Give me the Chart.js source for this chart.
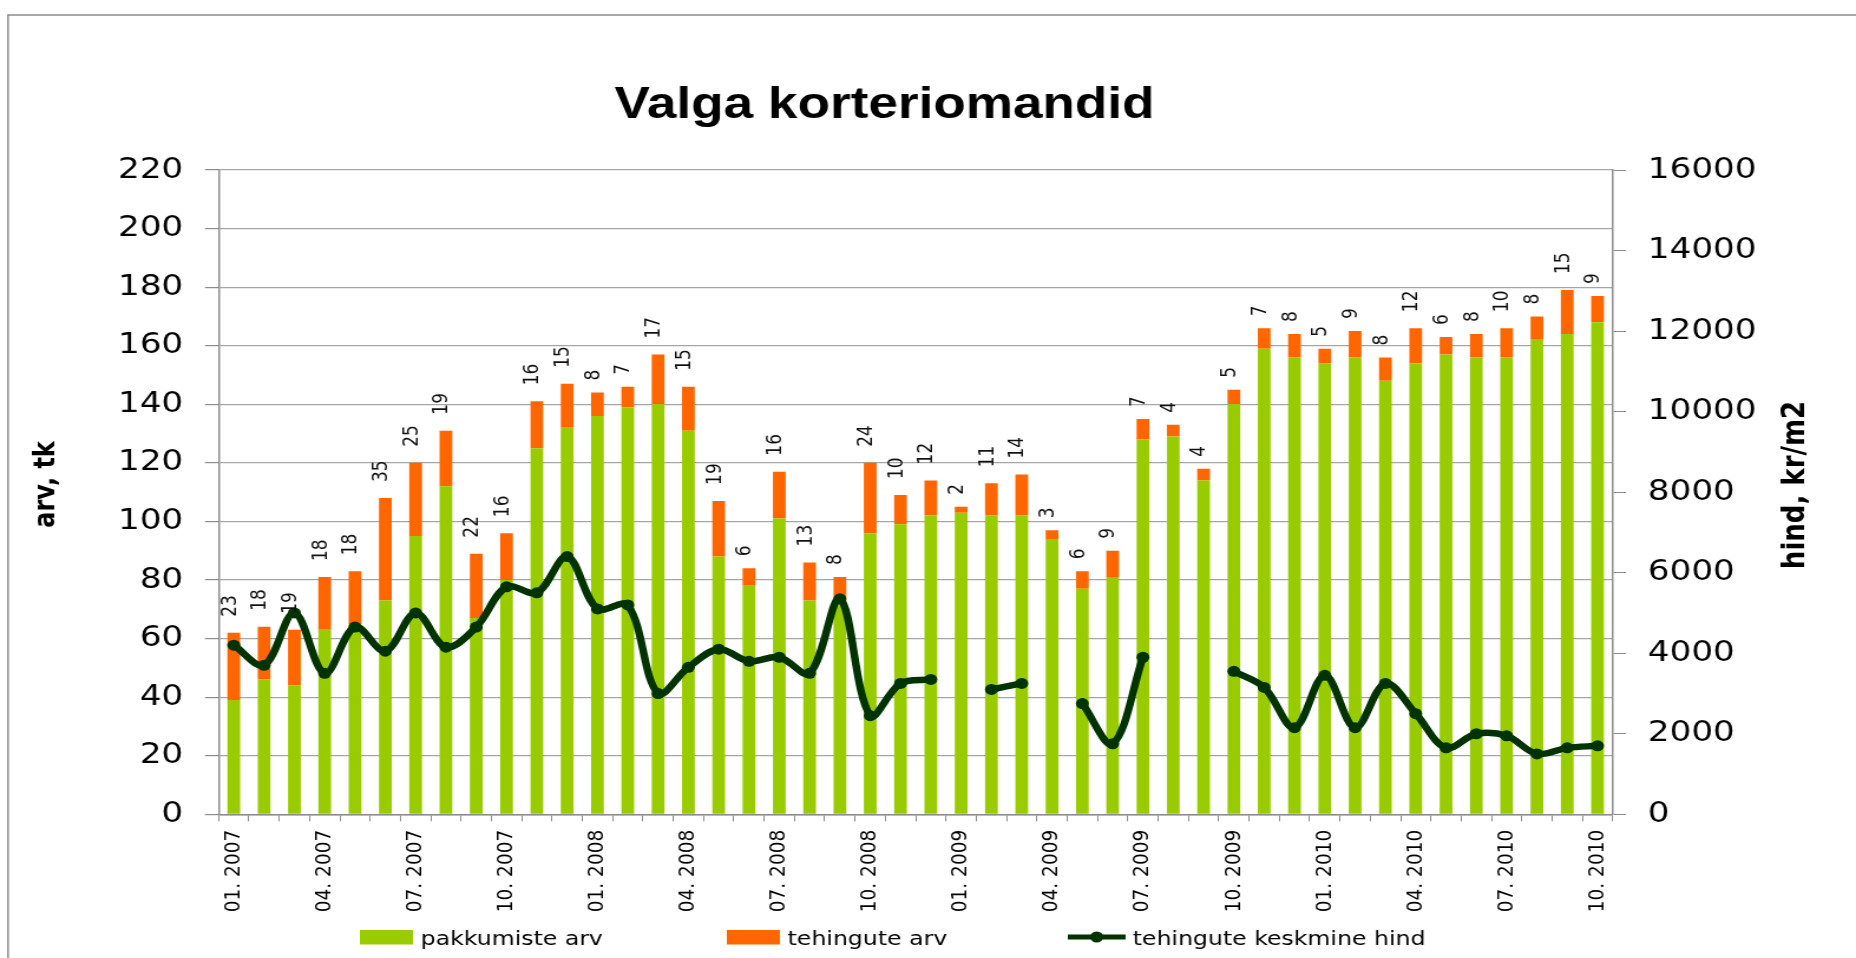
<!DOCTYPE html>
<html>
<head>
<meta charset="utf-8">
<title>Valga korteriomandid</title>
<script src="https://cdn.jsdelivr.net/npm/chart.js@4.4.1/dist/chart.umd.min.js"></script>
<style>
  html, body { margin: 0; padding: 0; background: #fff; overflow: hidden; }
  /* pilt on laiuti venitatud, seepärast joonistame kitsamalt ja venitame */
  #wrap { position: absolute; left: 0; top: 0; width: 1573px; height: 958px;
          transform: scaleX(1.1799); transform-origin: 0 0; }
</style>
</head>
<body>
<div id="wrap"><canvas id="graafik"></canvas></div>
<script>
const kuud = [
  "01. 2007", "02. 2007", "03. 2007", "04. 2007", "05. 2007", "06. 2007",
  "07. 2007", "08. 2007", "09. 2007", "10. 2007", "11. 2007", "12. 2007",
  "01. 2008", "02. 2008", "03. 2008", "04. 2008", "05. 2008", "06. 2008",
  "07. 2008", "08. 2008", "09. 2008", "10. 2008", "11. 2008", "12. 2008",
  "01. 2009", "02. 2009", "03. 2009", "04. 2009", "05. 2009", "06. 2009",
  "07. 2009", "08. 2009", "09. 2009", "10. 2009", "11. 2009", "12. 2009",
  "01. 2010", "02. 2010", "03. 2010", "04. 2010", "05. 2010", "06. 2010",
  "07. 2010", "08. 2010", "09. 2010", "10. 2010"
];

const pakkumised = [39, 46, 44, 63, 65, 73, 95, 112, 67, 80,
  125, 132, 136, 139, 140, 131, 88, 78, 101, 73,
  73, 96, 99, 102, 103, 102, 102, 94, 77, 81,
  128, 129, 114, 140, 159, 156, 154, 156, 148, 154,
  157, 156, 156, 162, 164, 168];

const tehingud = [23, 18, 19, 18, 18, 35, 25, 19, 22, 16,
  16, 15, 8, 7, 17, 15, 19, 6, 16, 13,
  8, 24, 10, 12, 2, 11, 14, 3, 6, 9,
  7, 4, 4, 5, 7, 8, 5, 9, 8, 12,
  6, 8, 10, 8, 15, 9];

const keskmineHind = [4200, 3700, 5000, 3500, 4650, 4050, 5000, 4150, 4650, 5650,
  5500, 6400, 5100, 5200, 3000, 3650, 4100, 3800, 3900, 3500,
  5350, 2450, 3250, 3350, null, 3100, 3250, null, 2750, 1750,
  3900, null, null, 3550, 3150, 2150, 3450, 2150, 3250, 2500,
  1650, 2000, 1950, 1500, 1650, 1700];

const roheline = "#99cc00";
const oranz = "#ff6600";
const tumeroheline = "#003300";
const hall = "#8c8c8c";

Chart.defaults.font.family = "DejaVu Sans";
Chart.defaults.color = "#000";

// legendi kohad (x) ja rea keskjoon
const legendiX = [305, 616, 905];
const legendiY = 937;

const lisad = {
  id: "lisad",
  beforeDraw(chart) {
    const ctx = chart.ctx;
    ctx.save();
    ctx.strokeStyle = hall;
    ctx.lineWidth = 1.5;
    ctx.beginPath();
    ctx.moveTo(6.8, 958);
    ctx.lineTo(6.8, 15);
    ctx.lineTo(chart.width, 15);
    ctx.stroke();
    ctx.restore();
  },
  afterDatasetsDraw(chart) {
    // tehingute arv iga tulba kohal
    const ctx = chart.ctx;
    const meta = chart.getDatasetMeta(1);
    ctx.save();
    ctx.font = '17px "DejaVu Sans"';
    ctx.fillStyle = "#111";
    ctx.textAlign = "left";
    ctx.textBaseline = "middle";
    meta.data.forEach((tulp, i) => {
      const tekst = String(tehingud[i]);
      const vahe = 8 + 4 * tekst.length;
      ctx.save();
      ctx.translate(tulp.x - 3, tulp.y - vahe);
      ctx.rotate(-Math.PI / 2);
      ctx.fillText(tekst, 0, 0);
      ctx.restore();
    });
    ctx.restore();
  },
  afterDraw(chart) {
    const ctx = chart.ctx;
    ctx.save();
    ctx.fillStyle = "#000";
    ctx.font = 'bold 45px "Liberation Sans"';
    ctx.textAlign = "center";
    ctx.textBaseline = "alphabetic";
    ctx.fillText("Valga korteriomandid", 749.6, 118);

    ctx.textBaseline = "middle";
    [["arv, tk", 39.8, 484.5, 24], ["hind, kr/m2", 1522.5, 485, 26]].forEach(([t, x, y, s]) => {
      ctx.save();
      ctx.font = "bold " + s + 'px "DejaVu Sans"';
      ctx.translate(x, y);
      ctx.rotate(-Math.PI / 2);
      ctx.fillText(t, 0, 0);
      ctx.restore();
    });

    // legend
    ctx.font = '20px "DejaVu Sans"';
    ctx.textAlign = "left";
    ctx.textBaseline = "alphabetic";
    chart.data.datasets.forEach((ds, i) => {
      const x = legendiX[i];
      let tx;
      if (ds.type === "line") {
        ctx.strokeStyle = ds.borderColor;
        ctx.lineWidth = 5;
        ctx.beginPath();
        ctx.moveTo(x, legendiY);
        ctx.lineTo(x + 49, legendiY);
        ctx.stroke();
        ctx.fillStyle = ds.borderColor;
        ctx.beginPath();
        ctx.arc(x + 24.5, legendiY, 5.5, 0, Math.PI * 2);
        ctx.fill();
        tx = x + 55;
      } else {
        ctx.fillStyle = ds.backgroundColor;
        ctx.fillRect(x, legendiY - 7, 45, 14.5);
        tx = x + 51.5;
      }
      ctx.fillStyle = "#000";
      ctx.fillText(ds.label, tx, legendiY + 8.3);
    });
    ctx.restore();
  }
};

new Chart(document.getElementById("graafik").getContext("2d"), {
  type: "bar",
  data: {
    labels: kuud,
    datasets: [
      {
        label: "pakkumiste arv",
        data: pakkumised,
        backgroundColor: roheline,
        yAxisID: "y",
        order: 1,
        barPercentage: 0.42,
        categoryPercentage: 1
      },
      {
        label: "tehingute arv",
        data: tehingud,
        backgroundColor: oranz,
        yAxisID: "y",
        order: 1,
        barPercentage: 0.42,
        categoryPercentage: 1
      },
      {
        type: "line",
        label: "tehingute keskmine hind",
        data: keskmineHind,
        yAxisID: "y1",
        order: 0,
        borderColor: tumeroheline,
        backgroundColor: tumeroheline,
        borderWidth: 6.5,
        pointRadius: 5.5,
        pointBackgroundColor: tumeroheline,
        pointBorderWidth: 0,
        tension: 0.35,
        spanGaps: false
      }
    ]
  },
  options: {
    responsive: true,
    maintainAspectRatio: false,
    animation: false,
    layout: { padding: { top: 170, left: 0, right: 49, bottom: 0 } },
    scales: {
      x: {
        stacked: true,
        grid: { display: true, offset: true, drawOnChartArea: false, tickLength: 7, color: hall },
        border: { display: true, color: hall, width: 1.5 },
        ticks: {
          autoSkip: false,
          maxRotation: 90,
          minRotation: 90,
          padding: 8.5,
          font: { size: 18.5 },
          callback: (v, i) => (i % 3 === 0 ? kuud[i] : "")
        },
        afterFit: s => { s.height = 143.7; }
      },
      y: {
        position: "left",
        stacked: true,
        min: 0,
        max: 220,
        ticks: { stepSize: 20, padding: 18.4, font: { size: 29 } },
        grid: { color: "#a6a6a6", tickColor: hall, lineWidth: 1.2, tickLength: 11.6 },
        border: { color: hall, width: 1.5 },
        afterFit: s => { s.width = 185.3; }
      },
      y1: {
        position: "right",
        min: 0,
        max: 16000,
        ticks: { stepSize: 2000, padding: 18.4, font: { size: 29 }, callback: v => String(v) },
        grid: { drawOnChartArea: false, color: hall, tickLength: 11.3 },
        border: { color: hall, width: 1.5 },
        afterFit: s => { s.width = 157.2; }
      }
    },
    plugins: {
      title: { display: false },
      tooltip: { enabled: false },
      legend: { display: false }
    }
  },
  plugins: [lisad]
});
</script>
</body>
</html>
